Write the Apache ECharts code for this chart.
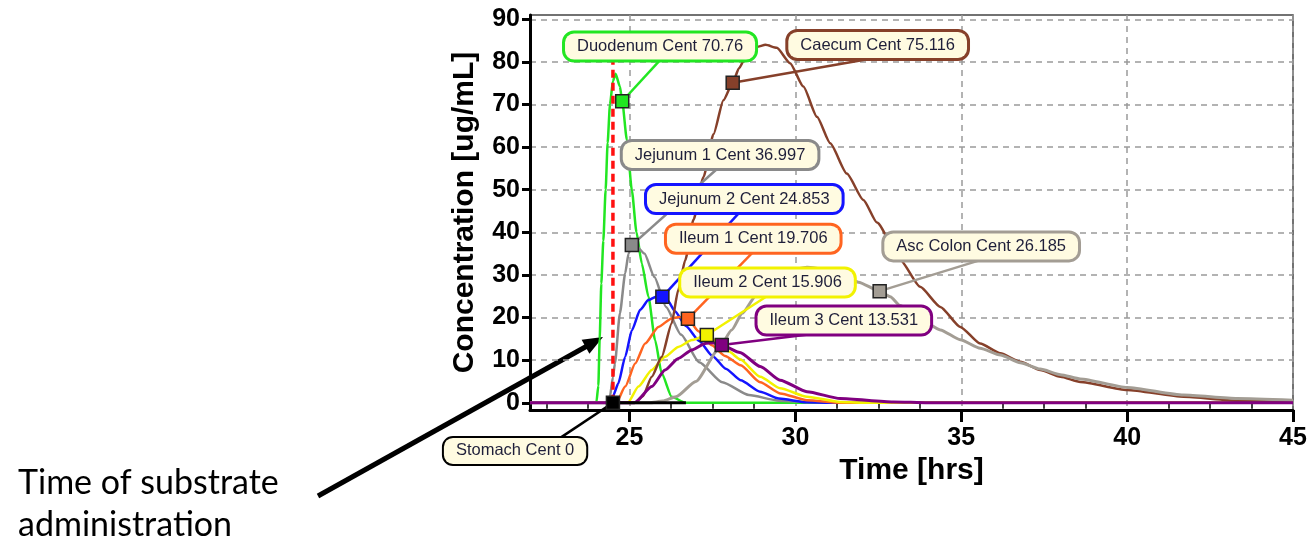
<!DOCTYPE html>
<html><head><meta charset="utf-8">
<script src="https://cdn.jsdelivr.net/npm/echarts@6/dist/echarts.min.js"></script>
<style>html,body{margin:0;padding:0;background:#fff}#c{width:1308px;height:541px}</style>
</head><body><div id="c"></div><script>
// ---- axis ticks ----
const xMajorTicks = [25, 30, 35, 40, 45];
const xMinorTicks = [22.5, 23.75, 26.25, 27.5, 28.75, 31.25, 32.5, 33.75, 36.25, 37.5, 38.75, 41.25, 42.5, 43.75];
const yTicks = [0, 10, 20, 30, 40, 50, 60, 70, 80, 90];

// ---- series values: [time hrs, concentration ug/mL] ----
const stomach = [[24.5, 0], [26.7, 0]];
const duodenum = [[22,0],[24.0,0],[24.06,4],[24.1,15],[24.15,28],[24.21,38],[24.28,50],[24.34,61],[24.41,70],[24.5,75.5],[24.58,77.2],[24.71,74.2],[24.78,70.76],[24.92,61.7],[25.07,49.9],[25.21,40],[25.37,32.7],[25.57,24.9],[25.77,14.7],[25.97,6.9],[26.27,1.4],[26.68,0],[45,0]];
const jejunum1 = [[22,0],[24.3,0],[24.41,1.5],[24.5,6],[24.56,9.2],[24.71,21],[24.87,30.4],[24.97,35],[25.07,36.997],[25.2,36.8],[25.45,35],[25.75,29.5],[26.1,22.5],[26.55,16],[27.1,9.5],[27.8,4.8],[28.6,1.8],[29.5,0.5],[30.5,0.1],[31.5,0],[45,0]];
const jejunum2 = [[22,0],[24.35,0],[24.5,1.5],[24.66,4.5],[24.87,10.8],[25.07,17],[25.32,21.8],[25.57,24.1],[25.8,24.9],[25.99,24.853],[26.15,24],[26.37,21.5],[26.7,18],[27.1,14.5],[27.5,11],[27.9,8],[28.35,5.3],[28.94,2.6],[29.5,1],[30.35,0.1],[31,0],[45,0]];
const ileum1 = [[22,0],[24.6,0],[24.87,3.8],[25.17,9.2],[25.47,13.9],[25.87,17.8],[26.27,19.8],[26.5,20.1],[26.76,19.706],[27.08,16.8],[27.48,13.5],[27.88,11],[28.35,8.8],[28.94,4.8],[29.54,2.2],[30.35,0.6],[31.35,0],[45,0]];
const ileum2 = [[22,0],[24.95,0],[25.27,3.8],[25.67,7.7],[26.07,10.8],[26.47,13.1],[26.88,14.7],[27.33,15.906],[27.6,14.5],[28.0,12],[28.33,10.2],[28.94,6.1],[29.54,3.4],[30.35,1.4],[31.35,0.2],[32,0],[45,0]];
const ileum3 = [[22,0],[25.15,0],[25.67,3.8],[26.07,7.7],[26.47,10.4],[26.88,12.4],[27.28,13.9],[27.5,14.1],[27.78,13.531],[28.33,11.8],[28.94,8.5],[29.54,5.3],[30.35,2.6],[31.35,1.0],[32.95,0.2],[34,0],[45,0]];
const caecum = [[22,0],[25.15,0],[25.4,1.5],[25.67,6.1],[25.97,10.8],[26.27,18.6],[26.47,26.5],[26.68,33.5],[26.93,43],[27.23,53],[27.53,63],[27.83,71],[28.11,75.116],[28.3,78.5],[28.54,81.8],[28.84,83.5],[29.1,84],[29.44,83.3],[29.84,79.7],[30.24,74.2],[30.65,67.1],[31.05,60.9],[31.55,53.8],[32.05,47.6],[32.46,42.3],[33.16,33.5],[33.76,27.2],[34.37,22.5],[34.97,17.8],[35.57,13.9],[36.18,11.6],[36.78,9.6],[37.38,7.7],[37.99,6.1],[38.59,4.9],[40,3.0],[41.7,1.4],[43.32,0.5],[45,0.2]];
const ascColon = [[22,0],[25.6,0],[26.0,0.4],[26.4,1.4],[27.0,5],[27.68,12.5],[28.08,17.1],[28.4,21],[28.8,25],[29.34,29],[29.8,31],[30.35,31.8],[30.9,31.3],[31.35,30.2],[31.9,28.3],[32.54,26.185],[32.86,24.9],[33.16,22.8],[33.76,19.6],[34.37,17.1],[34.97,14.8],[35.57,12.8],[36.18,11.2],[36.78,9.4],[37.38,7.9],[37.99,6.6],[38.59,5.6],[40,3.6],[41.7,1.8],[43.32,1.0],[45,0.6]];

// dose (substrate administration) line
const doseTime = 24.5;
const doseLine = [[doseTime, 0], [doseTime, 83]];

// ---- callout readouts ----
const calloutNames = ['Stomach Cent', 'Duodenum Cent', 'Jejunum 1 Cent', 'Jejunum 2 Cent', 'Ileum 1 Cent', 'Ileum 2 Cent', 'Ileum 3 Cent', 'Caecum Cent', 'Asc Colon Cent'];
const calloutTimes = [24.5, 24.78, 25.07, 25.99, 26.76, 27.33, 27.78, 28.11, 32.54];
const calloutValues = [0, 70.76, 36.997, 24.853, 19.706, 15.906, 13.531, 75.116, 26.185];

// layout of the callout boxes (data coords of box centre and leader end)
const calloutBox = [[21.55,-11.3],[25.92,83.6],[27.73,58.15],[28.46,47.8],[28.73,38.5],[29.16,28.2],[31.46,19.3],[32.48,83.97],[35.6,36.7]];
const calloutLeader = [[22.9,-8.3],[25.92,80.4],[27.67,55.1],[28.33,44.8],[28.73,35.4],[29.15,25.05],[30.45,16.1],[32.56,81.15],[35.67,33.7]];
const calloutColors = ['#000000', '#22e622', '#8a8a8a', '#1414ff', '#ff6420', '#f2f200', '#800080', '#86402a', '#a39d94'];

const FONT = '"Liberation Sans", Arial, sans-serif';

function curve(name, data, color, width) {
  return {
    type: 'line', name: name, data: data, showSymbol: false, symbol: 'none',
    smooth: 0.2, smoothMonotone: 'x',
    lineStyle: { color: color, width: width || 2.5 }, itemStyle: { color: color },
    silent: true, animation: false, xAxisIndex: 0, yAxisIndex: 0
  };
}

const calloutData = calloutNames.map((n, i) => [
  calloutTimes[i], calloutValues[i],
  calloutBox[i][0], calloutBox[i][1],
  calloutLeader[i][0], calloutLeader[i][1], i
]);

const chart = echarts.init(document.getElementById('c'), null, { renderer: 'canvas' });
chart.setOption({
  animation: false,
  backgroundColor: '#ffffff',
  grid: { left: 530, right: 15, top: 15, bottom: 131, show: true, borderColor: '#444', borderWidth: 1.5, containLabel: false, outerBoundsMode: 'none' },
  xAxis: [{
    type: 'value', min: 22, max: 45, position: 'bottom',
    name: 'Time [hrs]', nameLocation: 'middle', nameGap: 46,
    nameTextStyle: { fontSize: 30, fontWeight: 'bold', color: '#000', fontFamily: FONT },
    axisLine: { show: true, onZero: false, lineStyle: { color: '#000', width: 3 } },
    axisTick: { show: true, customValues: xMajorTicks, length: 12, lineStyle: { color: '#000', width: 3 } },
    axisLabel: { show: true, customValues: xMajorTicks, fontSize: 25, fontWeight: 'bold', color: '#000', margin: 16, fontFamily: FONT },
    splitLine: { show: true, lineStyle: { color: '#9a9a9a', width: 1.5, type: [6, 5] } }
  }, {
    type: 'value', min: 22, max: 45, position: 'bottom',
    axisLine: { show: false }, axisLabel: { show: false }, splitLine: { show: false },
    axisTick: { show: true, customValues: xMinorTicks, length: 6, lineStyle: { color: '#000', width: 1.5 } }
  }],
  yAxis: [{
    type: 'value', min: -1.7, max: 91, position: 'left',
    name: 'Concentration [ug/mL]', nameLocation: 'middle', nameGap: 50,
    nameTextStyle: { fontSize: 30, fontWeight: 'bold', color: '#000', fontFamily: FONT },
    axisLine: { show: true, onZero: false, lineStyle: { color: '#000', width: 3 } },
    axisTick: { show: true, customValues: yTicks, length: 8, lineStyle: { color: '#000', width: 3 } },
    axisLabel: { show: true, customValues: yTicks, fontSize: 25, fontWeight: 'bold', color: '#000', margin: 10, fontFamily: FONT },
    splitLine: { show: true, lineStyle: { color: '#9a9a9a', width: 1.5, type: [6, 5] } }
  }],
  series: [
    curve('Duodenum', duodenum, '#22e622'),
    curve('Jejunum 1', jejunum1, '#8a8a8a'),
    curve('Jejunum 2', jejunum2, '#1414ff'),
    curve('Ileum 1', ileum1, '#ff6420'),
    curve('Ileum 2', ileum2, '#f2f200'),
    curve('Caecum', caecum, '#86402a'),
    curve('Asc Colon', ascColon, '#a39d94', 3),
    curve('Ileum 3', ileum3, '#800080', 3),
    curve('Stomach', stomach, '#000000', 3),
    {
      type: 'line', name: 'Dose', data: doseLine, showSymbol: false, symbol: 'none',
      lineStyle: { color: '#ff1010', width: 3.5, type: [8, 5] }, silent: true, animation: false
    },
    {
      type: 'custom', name: 'callouts', data: calloutData, clip: false, silent: true, z: 5,
      renderItem: function (params, api) {
        const i = api.value(6);
        const col = calloutColors[i];
        const p = api.coord([api.value(0), api.value(1)]);
        const c = api.coord([api.value(2), api.value(3)]);
        const e = api.coord([api.value(4), api.value(5)]);
        const txt = calloutNames[i] + ' ' + calloutValues[i];
        const bw = i === 0 ? 2 : 3;
        return {
          type: 'group', children: [
            { type: 'line', shape: { x1: p[0], y1: p[1], x2: e[0], y2: e[1] }, style: { stroke: col, lineWidth: 2.5 } },
            { type: 'rect', shape: { x: p[0] - 6.5, y: p[1] - 6.5, width: 13, height: 13 }, style: { fill: col, stroke: '#222', lineWidth: 1.5 } },
            { type: 'text', x: c[0], y: c[1], style: {
                text: txt, font: '16.5px ' + FONT, fill: '#1f1f3a', align: 'center', verticalAlign: 'middle',
                lineHeight: 18, backgroundColor: '#fffbe1', borderColor: col, borderWidth: bw, borderRadius: 9, padding: [4, 12]
              } }
          ]
        };
      }
    }
  ],
  graphic: [
    { type: 'text', x: 18, y: 462, style: { text: 'Time of substrate\nadministration', font: '34px Lato, "Open Sans", sans-serif', fill: '#000', lineHeight: 42, verticalAlign: 'top' } },
    { type: 'line', shape: { x1: 318, y1: 496, x2: 588, y2: 345.5 }, style: { stroke: '#000', lineWidth: 5 } },
    { type: 'polygon', shape: { points: [[603, 337], [589.4, 353.8], [581.6, 339.8]] }, style: { fill: '#000' } }
  ]
});
</script></body></html>
